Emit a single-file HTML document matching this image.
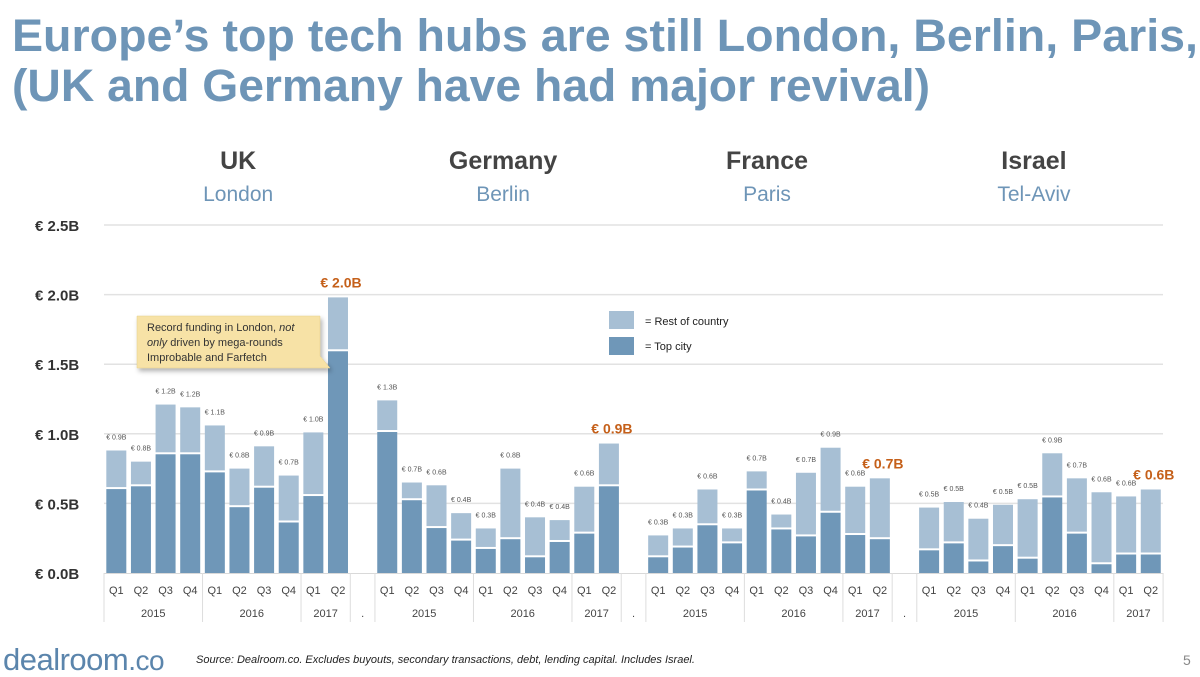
<!DOCTYPE html>
<html><head><meta charset="utf-8"><style>
html,body{margin:0;padding:0;background:#fff;}
svg{display:block;font-family:"Liberation Sans",Arial,sans-serif;}
</style></head><body>
<svg id="chart" width="1200" height="677" viewBox="0 0 1200 677">
<defs><filter id="sh" x="-10%" y="-10%" width="130%" height="140%"><feDropShadow dx="2" dy="3" stdDeviation="2.5" flood-color="#000" flood-opacity="0.3"/></filter></defs>
<g fill="#6e95b7" font-weight="bold" font-size="45">
<text x="12" y="51" textLength="1186" lengthAdjust="spacingAndGlyphs">Europe’s top tech hubs are still London, Berlin, Paris,</text>
<text x="12" y="101" textLength="918" lengthAdjust="spacingAndGlyphs">(UK and Germany have had major revival)</text>
</g>
<g id="grid"></g>
<g id="yaxis"></g>
<g id="bars"></g>
<g id="xaxis"></g>
<g id="heads"></g>
<g>
<path d="M137,316 H320 V356 L330,368 L312,368 H137 Z" fill="#f7e2a6" stroke="#e6cf8a" stroke-width="0.5" filter="url(#sh)"/>
<text x="147" y="331" font-size="11" fill="#333">Record funding in London, <tspan font-style="italic">not</tspan></text>
<text x="147" y="346" font-size="11" fill="#333"><tspan font-style="italic">only</tspan> driven by mega-rounds</text>
<text x="147" y="361" font-size="11" fill="#333">Improbable and Farfetch</text>
</g>
<g>
<rect x="609" y="311" width="25" height="18" fill="#a7bfd4"/>
<text x="645" y="325" font-size="11" fill="#222">= Rest of country</text>
<rect x="609" y="337" width="25" height="18" fill="#6f97b8"/>
<text x="645" y="350" font-size="11" fill="#222">= Top city</text>
</g>
<g>
<text x="3" y="670" font-size="31" fill="#5b85ac" letter-spacing="-0.5">dealroom<tspan font-size="28" font-weight="300">.co</tspan></text>
<text x="196" y="663" font-size="11" font-style="italic" fill="#222">Source: Dealroom.co. Excludes buyouts, secondary transactions, debt, lending capital. Includes Israel.</text>
<text x="1183" y="665" font-size="14" fill="#888">5</text>
</g>
</svg>
<script>
const countries=["UK","Germany","France","Israel"];
const cities=["London","Berlin","Paris","Tel-Aviv"];
const quarters=["Q1","Q2","Q3","Q4","Q1","Q2","Q3","Q4","Q1","Q2"];
const years=["2015","2016","2017"];
const yTicks=[0,0.5,1.0,1.5,2.0,2.5];
const yTickLabels=["€ 0.0B","€ 0.5B","€ 1.0B","€ 1.5B","€ 2.0B","€ 2.5B"];
const totalUK=[0.88,0.80,1.21,1.19,1.06,0.75,0.91,0.70,1.01,1.98];
const cityUK=[0.61,0.63,0.86,0.86,0.73,0.48,0.62,0.37,0.56,1.60];
const totalDE=[1.24,0.65,0.63,0.43,0.32,0.75,0.40,0.38,0.62,0.93];
const cityDE=[1.02,0.53,0.33,0.24,0.18,0.25,0.12,0.23,0.29,0.63];
const totalFR=[0.27,0.32,0.60,0.32,0.73,0.42,0.72,0.90,0.62,0.68];
const cityFR=[0.12,0.19,0.35,0.22,0.60,0.32,0.27,0.44,0.28,0.25];
const totalIL=[0.47,0.51,0.39,0.49,0.53,0.86,0.68,0.58,0.55,0.60];
const cityIL=[0.17,0.22,0.09,0.20,0.11,0.55,0.29,0.07,0.14,0.14];
const labelsUK=["€ 0.9B","€ 0.8B","€ 1.2B","€ 1.2B","€ 1.1B","€ 0.8B","€ 0.9B","€ 0.7B","€ 1.0B","€ 2.0B"];
const labelsDE=["€ 1.3B","€ 0.7B","€ 0.6B","€ 0.4B","€ 0.3B","€ 0.8B","€ 0.4B","€ 0.4B","€ 0.6B","€ 0.9B"];
const labelsFR=["€ 0.3B","€ 0.3B","€ 0.6B","€ 0.3B","€ 0.7B","€ 0.4B","€ 0.7B","€ 0.9B","€ 0.6B","€ 0.7B"];
const labelsIL=["€ 0.5B","€ 0.5B","€ 0.4B","€ 0.5B","€ 0.5B","€ 0.9B","€ 0.7B","€ 0.6B","€ 0.6B","€ 0.6B"];
const totals=[totalUK,totalDE,totalFR,totalIL];
const cityVals=[cityUK,cityDE,cityFR,cityIL];
const labels=[labelsUK,labelsDE,labelsFR,labelsIL];

const NS="http://www.w3.org/2000/svg";
const X0=104, SLOT=24.63, BW=20, Y0=573, PPU=139.2;
const HEAD_OFFSET=[11,5,-2,-6];
function yScale(v){return Y0-v*PPU;}
function xSlot(c,i){return X0+(c*11+i)*SLOT;}
function mk(tag,attrs,parent){const e=document.createElementNS(NS,tag);for(const k in attrs)e.setAttribute(k,attrs[k]);parent.appendChild(e);return e;}
const grid=document.getElementById('grid'),yax=document.getElementById('yaxis'),bars=document.getElementById('bars'),xax=document.getElementById('xaxis'),heads=document.getElementById('heads');
yTicks.forEach((t,i)=>{
  if(i>0){const l=mk('line',{x1:X0,x2:1163,y1:yScale(t),y2:yScale(t),stroke:'#e2e2e2','stroke-width':1.5},grid);
  
  }
  const tx=mk('text',{x:35,y:yScale(t)+6,'font-size':15,'font-weight':'bold',fill:'#333'},yax);
  tx.textContent=yTickLabels[i];
  
  
});
const base=mk('line',{x1:X0,x2:1163,y1:Y0+0.5,y2:Y0+0.5,stroke:'#d9d9d9'},xax);


countries.forEach((c,ci)=>{
  const cx0=xSlot(ci,0), cx1=xSlot(ci,10);
  const mid=(cx0+cx1)/2+HEAD_OFFSET[ci];
  const h=mk('text',{x:mid,y:169,'font-size':25,'font-weight':'bold',fill:'#444','text-anchor':'middle'},heads);
  h.textContent=c;
  
  
  const s=mk('text',{x:mid,y:201,'font-size':21,fill:'#6e95b7','text-anchor':'middle'},heads);
  s.textContent=cities[ci];
  
  
  totals[ci].forEach((tv,i)=>{
    const cv=cityVals[ci][i];
    const x=xSlot(ci,i)+(SLOT-BW)/2;
    const r1=mk('rect',{x:x,y:yScale(tv),width:BW,height:yScale(cv)-yScale(tv)-1,fill:'#a7bfd4'},bars);
    
    
    const r2=mk('rect',{x:x,y:yScale(cv)+1,width:BW,height:Y0-yScale(cv)-1,fill:'#6f97b8'},bars);
    
    
    const last=i===9;
    const lt=mk('text',last?{x:x+BW/2+3,y:yScale(tv)-10,'font-size':14,'font-weight':'bold',fill:'#c5601a','text-anchor':'middle'}:{x:x+BW/2,y:yScale(tv)-11,'font-size':7,fill:'#555','text-anchor':'middle'},bars);
    lt.textContent=labels[ci][i];
    
    
    const q=mk('text',{x:xSlot(ci,i)+SLOT/2,y:594,'font-size':11,fill:'#444','text-anchor':'middle'},xax);
    q.textContent=quarters[i];
    
    
  });
  const spans=[[0,4],[4,8],[8,10]];
  spans.forEach((sp,yi)=>{
    const a=xSlot(ci,sp[0]),b=xSlot(ci,sp[1]);
    const yl=mk('text',{x:(a+b)/2,y:617,'font-size':11,fill:'#444','text-anchor':'middle'},xax);
    yl.textContent=years[yi];
    
    
    const sep=mk('line',{x1:a,x2:a,y1:Y0,y2:622,stroke:'#ddd'},xax);
    
    
  });
  const e=mk('line',{x1:cx1,x2:cx1,y1:Y0,y2:622,stroke:'#ddd'},xax);
  
  
  if(ci<3){const d=mk('text',{x:cx1+SLOT/2,y:617,'font-size':11,fill:'#444','text-anchor':'middle'},xax);
  d.textContent='.';
  
  }
});
</script>
</body></html>
